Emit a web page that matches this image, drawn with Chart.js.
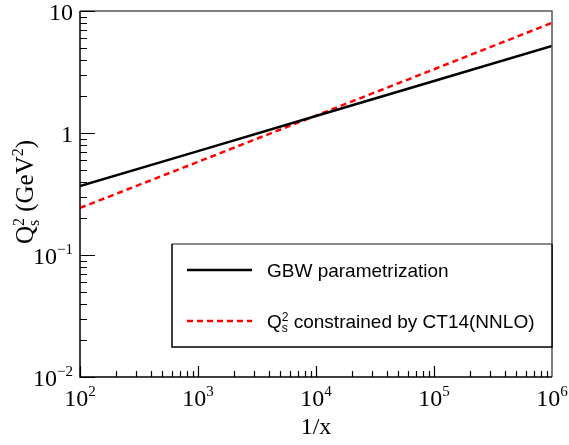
<!DOCTYPE html>
<html>
<head>
<meta charset="utf-8">
<script src="https://cdn.jsdelivr.net/npm/chart.js@4.4.0/dist/chart.umd.min.js"></script>
<style>
  body { margin: 0; background: #fff; }
  #wrap { width: 569px; height: 445px; position: relative; }
</style>
</head>
<body>
<div id="wrap"><canvas id="grafico"></canvas></div>
<script>
// valores
const invX = [1e2, 1e3, 1e4, 1e5, 1e6];
const gbwQs2 = [0.368, 0.71, 1.38, 2.67, 5.16];
const ct14Qs2 = [0.243, 0.58, 1.39, 3.33, 8.0];
const seriesNames = ['GBW parametrization', 'constrained by CT14(NNLO)'];

const xTicks = [1e2, 1e3, 1e4, 1e5, 1e6];
const xTickText = ['10^2', '10^3', '10^4', '10^5', '10^6'];
const yTicks = [1e-2, 1e-1, 1, 10];
const yTickText = ['10^\u22122', '10^\u22121', '1', '10'];

const serif = '"Liberation Serif", "Times New Roman", serif';
const sans = '"Liberation Sans", Arial, sans-serif';

function parsePow(s) {
  const p = s.split('^');
  return p.length > 1 ? [[p[0], 0], [p[1], 1]] : [[p[0], 0]];
}

function richWidth(ctx, parts, size, fam) {
  let w = 0;
  const small = Math.round(size * 0.62) + 'px ' + fam;
  for (const [t, m] of parts) {
    if (m === 0) {
      ctx.font = size + 'px ' + fam;
      w += ctx.measureText(t).width;
    } else if (m === 3) {
      ctx.font = small;
      const [a, b] = t.split('|');
      w += Math.max(ctx.measureText(a).width, ctx.measureText(b).width);
    } else {
      ctx.font = small;
      w += ctx.measureText(t).width;
    }
  }
  return w;
}

function drawRich(ctx, parts, x, y, align, size, fam) {
  const w = richWidth(ctx, parts, size, fam);
  let cx = align === 'center' ? x - w / 2 : align === 'right' ? x - w : x;
  const small = Math.round(size * 0.62) + 'px ' + fam;
  ctx.textAlign = 'left';
  ctx.textBaseline = 'alphabetic';
  for (const [t, m] of parts) {
    if (m === 0) {
      ctx.font = size + 'px ' + fam;
      ctx.fillText(t, cx, y);
      cx += ctx.measureText(t).width;
    } else if (m === 1) {
      ctx.font = small;
      ctx.fillText(t, cx, y - size * 0.42);
      cx += ctx.measureText(t).width;
    } else if (m === 2) {
      ctx.font = small;
      ctx.fillText(t, cx, y + size * 0.2);
      cx += ctx.measureText(t).width;
    } else {
      ctx.font = small;
      const [a, b] = t.split('|');
      ctx.fillText(a, cx, y + size * 0.22);
      ctx.fillText(b, cx, y - size * 0.36);
      cx += Math.max(ctx.measureText(a).width, ctx.measureText(b).width);
    }
  }
}

const rootStyle = {
  id: 'rootStyle',
  afterDraw(chart) {
    const ctx = chart.ctx;
    const a = chart.chartArea;
    const sx = chart.scales.x;
    const sy = chart.scales.y;
    ctx.save();
    ctx.fillStyle = '#000';
    ctx.strokeStyle = '#000';

    // moldura
    ctx.lineWidth = 1.5;
    ctx.strokeStyle = '#555';
    ctx.beginPath();
    ctx.moveTo(a.left, a.top);
    ctx.lineTo(a.right, a.top);
    ctx.lineTo(a.right, a.bottom);
    ctx.stroke();
    ctx.strokeStyle = '#000';
    ctx.beginPath();
    ctx.moveTo(a.left, a.top);
    ctx.lineTo(a.left, a.bottom);
    ctx.lineTo(a.right, a.bottom);
    ctx.stroke();

    // ticks eixo x
    ctx.lineWidth = 1.2;
    ctx.beginPath();
    for (let d = 2; d < 6; d++) {
      for (let k = 1; k <= 9; k++) {
        const v = k * Math.pow(10, d);
        if (v > 1e6) continue;
        const px = Math.round(sx.getPixelForValue(v)) + 0.5;
        const len = k === 1 ? 11 : 6;
        ctx.moveTo(px, a.bottom);
        ctx.lineTo(px, a.bottom - len);
      }
    }
    // ticks eixo y
    for (let d = -2; d < 1; d++) {
      for (let k = 1; k <= 9; k++) {
        const v = k * Math.pow(10, d);
        const py = Math.round(sy.getPixelForValue(v)) + 0.5;
        const len = k === 1 ? 15 : 7;
        ctx.moveTo(a.left, py);
        ctx.lineTo(a.left + len, py);
      }
    }
    ctx.moveTo(a.left, a.top + 0.5);
    ctx.lineTo(a.left + 15, a.top + 0.5);
    ctx.stroke();

    // rotulos
    xTicks.forEach((v, i) => {
      drawRich(ctx, parsePow(xTickText[i]), sx.getPixelForValue(v), 406, 'center', 24, serif);
    });
    yTicks.forEach((v, i) => {
      drawRich(ctx, parsePow(yTickText[i]), a.left - 7, sy.getPixelForValue(v) + 9, 'right', 24, serif);
    });

    // titulos
    drawRich(ctx, [['1/x', 0]], (a.left + a.right) / 2, 434, 'center', 24, serif);
    ctx.save();
    ctx.translate(33, 192);
    ctx.rotate(-Math.PI / 2);
    drawRich(ctx, [['Q', 0], ['s|2', 3], [' (GeV', 0], ['2', 1], [')', 0]], 0, 0, 'center', 25, serif);
    ctx.restore();

    // legenda
    const lx = 172, ly = 244, lr = a.right, lb = 347;
    ctx.fillStyle = '#fff';
    ctx.fillRect(lx, ly, lr - lx, lb - ly);
    ctx.lineWidth = 1.5;
    ctx.strokeStyle = '#666';
    ctx.beginPath();
    ctx.moveTo(lx, ly);
    ctx.lineTo(lr, ly);
    ctx.stroke();
    ctx.strokeStyle = '#000';
    ctx.beginPath();
    ctx.moveTo(lx, ly);
    ctx.lineTo(lx, lb);
    ctx.lineTo(lr, lb);
    ctx.lineTo(lr, ly);
    ctx.stroke();

    const rows = [270, 321];
    chart.data.datasets.forEach((ds, i) => {
      ctx.strokeStyle = ds.borderColor;
      ctx.lineWidth = ds.borderWidth;
      ctx.setLineDash(ds.borderDash || []);
      ctx.beginPath();
      ctx.moveTo(187, rows[i]);
      ctx.lineTo(252, rows[i]);
      ctx.stroke();
      ctx.setLineDash([]);
    });
    ctx.fillStyle = '#000';
    drawRich(ctx, [[seriesNames[0], 0]], 267, rows[0] + 7, 'left', 19, sans);
    drawRich(ctx, [['Q', 0], ['s|2', 3], [' ' + seriesNames[1], 0]], 267, rows[1] + 7, 'left', 19, sans);
    ctx.restore();
  }
};

new Chart(document.getElementById('grafico'), {
  type: 'line',
  data: {
    datasets: [{
      label: 'GBW parametrization',
      data: invX.map((x, i) => ({ x: x, y: gbwQs2[i] })),
      borderColor: '#000',
      borderWidth: 2.5,
      pointRadius: 0,
      tension: 0
    }, {
      label: 'Q_s^2 constrained by CT14(NNLO)',
      data: invX.map((x, i) => ({ x: x, y: ct14Qs2[i] })),
      borderColor: '#ff0000',
      borderWidth: 2.5,
      borderDash: [6, 4],
      pointRadius: 0,
      tension: 0
    }]
  },
  options: {
    responsive: true,
    maintainAspectRatio: false,
    animation: false,
    layout: { padding: { left: 80, top: 11, right: 17, bottom: 68 } },
    plugins: { legend: { display: false }, tooltip: { enabled: false } },
    scales: {
      x: {
        type: 'logarithmic', min: 1e2, max: 1e6,
        ticks: { display: false },
        grid: { display: false, drawTicks: false },
        border: { display: false }
      },
      y: {
        type: 'logarithmic', min: 1e-2, max: 10,
        ticks: { display: false },
        grid: { display: false, drawTicks: false },
        border: { display: false }
      }
    }
  },
  plugins: [rootStyle]
});
</script>
</body>
</html>
